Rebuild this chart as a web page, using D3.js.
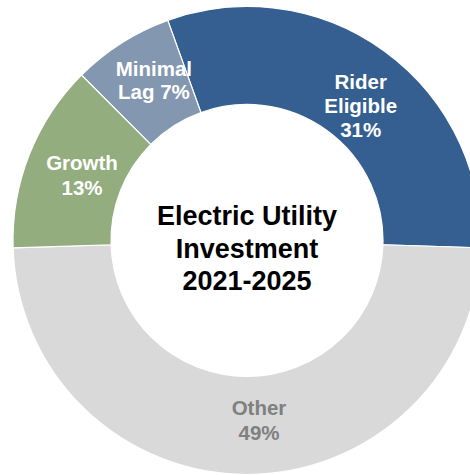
<!DOCTYPE html>
<html>
<head>
<meta charset="utf-8">
<script src="https://cdn.jsdelivr.net/npm/d3@7"></script>
<style>
  html, body { margin: 0; padding: 0; background: #fff; }
  svg { display: block; }
  text { font-family: "Liberation Sans", Arial, sans-serif; font-weight: bold; }
</style>
</head>
<body>
<svg id="chart" width="470" height="475"></svg>
<script>
// Electric utility investment mix, 2021-2025
const categories = ["Rider Eligible", "Other", "Growth", "Minimal Lag"];
const shares = [31, 49, 13, 7];
const labelLines = [["Rider", "Eligible", "31%"], ["Other", "49%"], ["Growth", "13%"], ["Minimal", "Lag 7%"]];
const titleLines = ["Electric Utility", "Investment", "2021-2025"];

const colors = ["#365f91", "#d9d9d9", "#93ad7e", "#8497b0"];
const textColors = ["#ffffff", "#808080", "#ffffff", "#ffffff"];

const width = 470, height = 475;
const cx = 247, cy = 240.5;
const outerR = 234, innerR = 136;

const svg = d3.select("#chart");
const g = svg.append("g").attr("transform", `translate(${cx},${cy})`);

// "Other" sits centred on the bottom of the ring
const deg = Math.PI / 180;
const otherSpan = shares[1] / d3.sum(shares) * 360;
const riderSpan = shares[0] / d3.sum(shares) * 360;
const start = (180 - otherSpan / 2 - riderSpan) * deg;

const pie = d3.pie().sort(null).value(d => d).startAngle(start).endAngle(start + 2 * Math.PI);
const arcs = pie(shares);

const arc = d3.arc().innerRadius(innerR).outerRadius(outerR);
const labelArc = d3.arc().innerRadius(185).outerRadius(185);

g.selectAll("path.slice")
  .data(arcs)
  .join("path")
  .attr("class", "slice")
  .attr("d", arc)
  .attr("fill", (d, i) => colors[i])
  .attr("stroke", "#ffffff")
  .attr("stroke-width", 1.2);

// small nudges so each label sits where it reads best inside its wedge
const nudge = [[5, 14.5], [12, -5], [7, 3], [6, -4]];
const lineH = [24, 25.5, 25, 23];

arcs.forEach((d, i) => {
  const [x, y] = labelArc.centroid(d);
  const lines = labelLines[i];
  const t = g.append("text")
    .attr("text-anchor", "middle")
    .attr("fill", textColors[i])
    .attr("font-size", 20.5);
  lines.forEach((s, j) => {
    t.append("tspan")
      .attr("x", x + nudge[i][0])
      .attr("y", y + nudge[i][1] + (j - (lines.length - 1) / 2) * lineH[i])
      .attr("dy", "0.35em")
      .text(s);
  });
});

// centre title
const title = g.append("text")
  .attr("text-anchor", "middle")
  .attr("fill", "#000000")
  .attr("font-size", 27);
titleLines.forEach((s, j) => {
  title.append("tspan")
    .attr("x", 0)
    .attr("y", 8 + (j - 1) * 32.5)
    .attr("dy", "0.35em")
    .text(s);
});
</script>
</body>
</html>
